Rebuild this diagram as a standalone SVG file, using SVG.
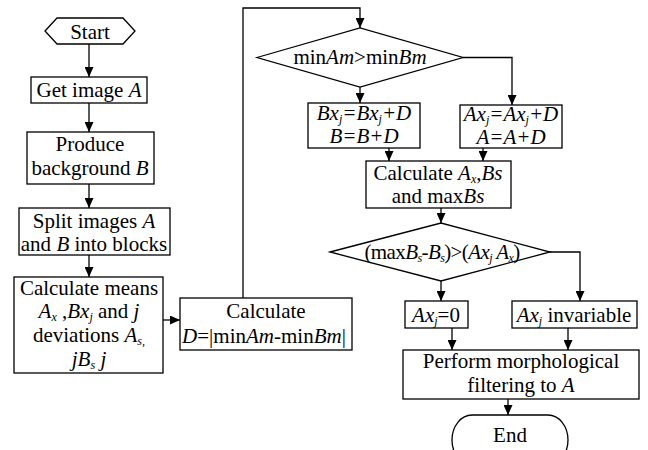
<svg xmlns="http://www.w3.org/2000/svg" width="648" height="450" viewBox="0 0 648 450">
<style>
.box{fill:#fff;stroke:#000;stroke-width:1.3}
.c{fill:none;stroke:#000;stroke-width:1.3}
text{font-family:"Liberation Serif","Times New Roman",serif;font-size:21px;text-anchor:middle;fill:#000}
.i{font-style:italic}
.s{font-size:12px}
</style>
<defs>
<marker id="ah" markerUnits="userSpaceOnUse" markerWidth="10" markerHeight="9" refX="10" refY="4.5" orient="auto">
<path d="M0,0 L10,4.5 L0,9 z" fill="#000"/>
</marker>
</defs>
<rect width="648" height="450" fill="#fff"/>
<g id="connectors">
<path class="c" d="M89,44 V77" marker-end="url(#ah)"/>
<path class="c" d="M89,103 V132" marker-end="url(#ah)"/>
<path class="c" d="M89,184 V208" marker-end="url(#ah)"/>
<path class="c" d="M89,255 V277" marker-end="url(#ah)"/>
<path class="c" d="M163,320 H180" marker-end="url(#ah)"/>
<path class="c" d="M243,298 V8 H360 V28" marker-end="url(#ah)"/>
<path class="c" d="M360,87 V103" marker-end="url(#ah)"/>
<path class="c" d="M463,57.5 H512 V105" marker-end="url(#ah)"/>
<path class="c" d="M389,148 V161" marker-end="url(#ah)"/>
<path class="c" d="M483,148 V161" marker-end="url(#ah)"/>
<path class="c" d="M441,208 V223" marker-end="url(#ah)"/>
<path class="c" d="M441,281 V301" marker-end="url(#ah)"/>
<path class="c" d="M550,252 H580 V301" marker-end="url(#ah)"/>
<path class="c" d="M452,328 V350" marker-end="url(#ah)"/>
<path class="c" d="M568,328 V350" marker-end="url(#ah)"/>
<path class="c" d="M508,399 V415" marker-end="url(#ah)"/>
</g>
<g id="start">
<polygon class="box" points="45,31 57,18 123,18 135,31 123,44 57,44"/>
<text x="90" y="39">Start</text>
</g>
<g id="get-image">
<rect class="box" x="31" y="77" width="116" height="26"/>
<text x="89" y="97">Get image <tspan class="i">A</tspan></text>
</g>
<g id="produce">
<rect class="box" x="27" y="132" width="127" height="52"/>
<text x="90" y="151">Produce</text>
<text x="90" y="175">background <tspan class="i">B</tspan></text>
</g>
<g id="split">
<rect class="box" x="19" y="208" width="151" height="47"/>
<text x="94" y="228">Split images <tspan class="i">A</tspan></text>
<text x="94" y="251">and <tspan class="i">B</tspan> into blocks</text>
</g>
<g id="means">
<rect class="box" x="14" y="277" width="149" height="96"/>
<text x="89" y="295">Calculate means</text>
<text x="89" y="318"><tspan class="i">A</tspan><tspan class="s i" dy="3">x</tspan><tspan dy="-3"> ,</tspan><tspan class="i">Bx</tspan><tspan class="s i" dy="3">j</tspan><tspan dy="-3"> and </tspan><tspan class="i">j</tspan></text>
<text x="89" y="342">deviations <tspan class="i">A</tspan><tspan class="s i" dy="3">s,</tspan></text>
<text x="89" y="366"><tspan class="i">jB</tspan><tspan class="s i" dy="3">s</tspan><tspan class="i" dy="-3"> j</tspan></text>
</g>
<g id="calc-d">
<rect class="box" x="180" y="298" width="172" height="52"/>
<text x="266" y="318">Calculate</text>
<text x="264" y="343"><tspan class="i">D</tspan>=|min<tspan class="i">Am</tspan>-min<tspan class="i">Bm</tspan>|</text>
</g>
<g id="decision1">
<polygon class="box" points="257,57.5 360,28 463,57.5 360,87"/>
<text x="360" y="64">min<tspan class="i">Am</tspan>&gt;min<tspan class="i">Bm</tspan></text>
</g>
<g id="update-b">
<rect class="box" x="308" y="103" width="112" height="45"/>
<text x="364" y="120" class="i">Bx<tspan class="s" dy="3">j</tspan><tspan dy="-3">=Bx</tspan><tspan class="s" dy="3">j</tspan><tspan dy="-3">+D</tspan></text>
<text x="364" y="143" class="i">B=B+D</text>
</g>
<g id="update-a">
<rect class="box" x="460" y="105" width="102" height="43"/>
<text x="511" y="121" class="i">Ax<tspan class="s" dy="3">j</tspan><tspan dy="-3">=Ax</tspan><tspan class="s" dy="3">j</tspan><tspan dy="-3">+D</tspan></text>
<text x="511" y="144" class="i">A=A+D</text>
</g>
<g id="calc-ab">
<rect class="box" x="366" y="161" width="145" height="47"/>
<text x="438" y="180">Calculate <tspan class="i">A</tspan><tspan class="s i" dy="3">x</tspan><tspan dy="-3">,</tspan><tspan class="i">Bs</tspan></text>
<text x="438" y="203">and max<tspan class="i">Bs</tspan></text>
</g>
<g id="decision2">
<polygon class="box" points="330,252 441,223 550,252 441,281"/>
<text x="442" y="259" letter-spacing="-0.6">(max<tspan class="i">B</tspan><tspan class="s i" dy="3">s</tspan><tspan dy="-3">-</tspan><tspan class="i">B</tspan><tspan class="s i" dy="3">s</tspan><tspan dy="-3">)&gt;(</tspan><tspan class="i">Ax</tspan><tspan class="s i" dy="3">j</tspan><tspan class="i" dy="-3"> A</tspan><tspan class="s i" dy="3">x</tspan><tspan dy="-3">)</tspan></text>
</g>
<g id="ax-zero">
<rect class="box" x="405" y="301" width="63" height="27"/>
<text x="436" y="322"><tspan class="i">Ax</tspan><tspan class="s i" dy="3">j</tspan><tspan dy="-3">=0</tspan></text>
</g>
<g id="ax-invariable">
<rect class="box" x="512" y="301" width="125" height="27"/>
<text x="574" y="322"><tspan class="i">Ax</tspan><tspan class="s i" dy="3">j</tspan><tspan dy="-3"> invariable</tspan></text>
</g>
<g id="perform">
<rect class="box" x="403" y="350" width="236" height="49"/>
<text x="521" y="368">Perform morphological</text>
<text x="521" y="392">filtering to <tspan class="i">A</tspan></text>
</g>
<g id="end">
<rect class="box" x="452" y="415" width="116" height="50" rx="20" ry="25"/>
<text x="510" y="442">End</text>
</g>
</svg>
